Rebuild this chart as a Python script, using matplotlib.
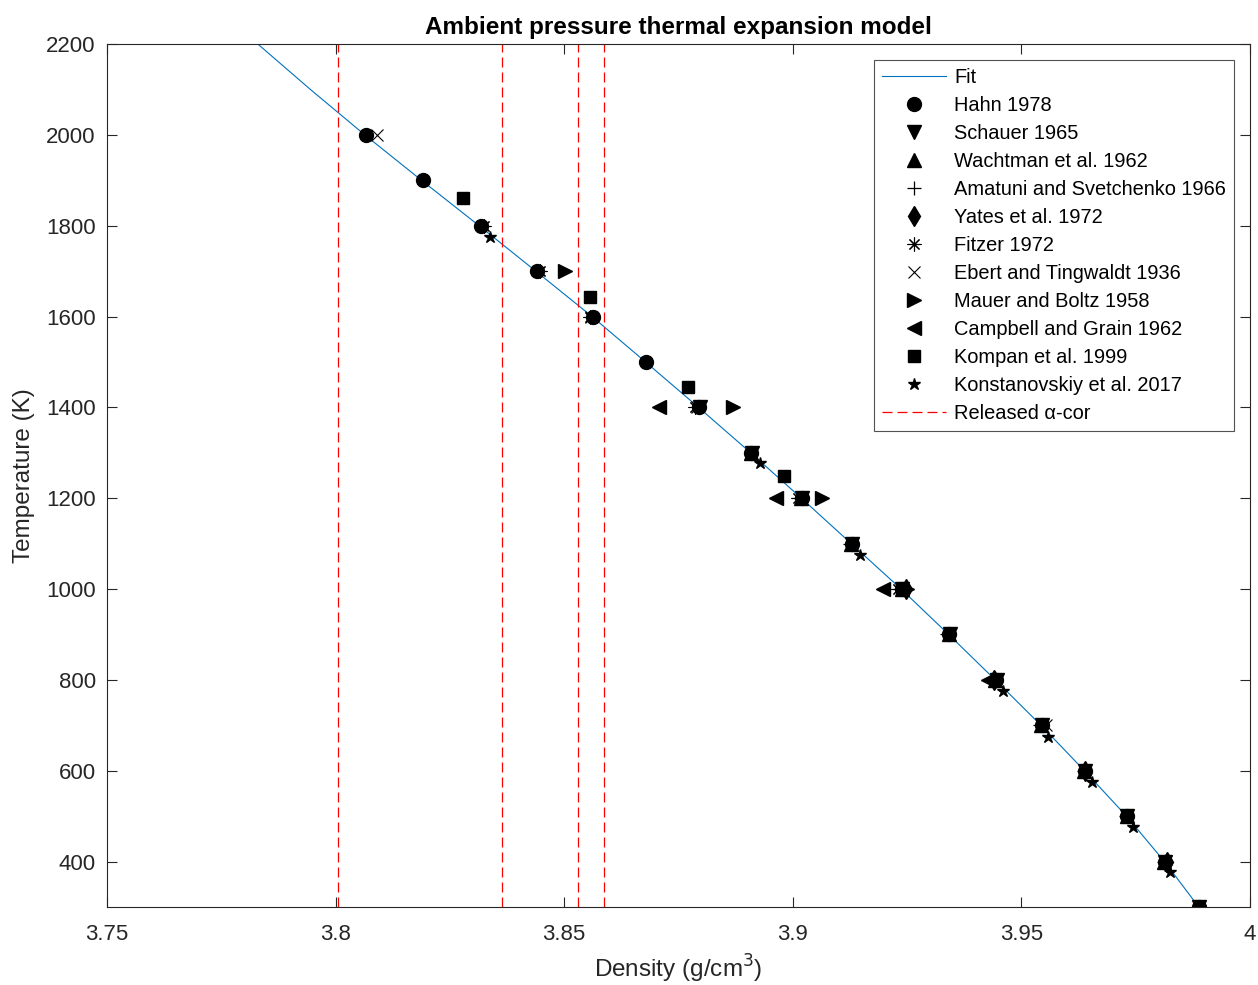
import matplotlib.pyplot as plt

plt.rcParams['font.family'] = ['Liberation Sans', 'DejaVu Sans']

# ---------------------------- data ----------------------------
fit_T = [2200, 2100, 2000, 1900, 1800, 1700, 1600, 1500, 1400, 1300, 1200, 1100,
         1000, 900, 800, 700, 600, 500, 400, 300]
fit_rho = [3.7830, 3.7945, 3.8064, 3.8188, 3.8314, 3.8438, 3.8561, 3.8678, 3.8794,
           3.8908, 3.9019, 3.9128, 3.9237, 3.9341, 3.9443, 3.9543, 3.9638, 3.9730,
           3.9813, 3.9888]

hahn_T = [2000, 1900, 1800, 1700, 1600, 1500, 1400, 1300, 1200, 1100, 1000, 900,
          800, 700, 600, 500, 400, 300]
hahn_rho = [3.8067, 3.8191, 3.8318, 3.8441, 3.8563, 3.8679, 3.8795, 3.8909, 3.9020,
            3.9129, 3.9239, 3.9342, 3.9444, 3.9545, 3.9639, 3.9731, 3.9814, 3.9888]

schauer_T = [1400, 1300, 1200, 1100, 1000, 900, 800, 700, 600, 500, 400, 300]
schauer_rho = [3.8797, 3.8910, 3.9021, 3.9130, 3.9240, 3.9343, 3.9446, 3.9546,
               3.9640, 3.9732, 3.9815, 3.9889]

wachtman_T = [1300, 1200, 1100, 1000, 900, 800, 700, 600, 500, 400, 300]
wachtman_rho = [3.8908, 3.9019, 3.9128, 3.9238, 3.9341, 3.9443, 3.9544, 3.9638,
                3.9730, 3.9813, 3.9888]

amatuni_T = [1200, 1100, 1000, 900, 800, 700, 600, 500, 400]
amatuni_rho = [3.9016, 3.9126, 3.9234, 3.9338, 3.9440, 3.9541, 3.9636, 3.9728, 3.9811]

yates_T = [1000, 800, 600, 400]
yates_rho = [3.9248, 3.9440, 3.9640, 3.9818]

fitzer_T = [1800, 1700, 1600, 1400, 1200, 1000]
fitzer_rho = [3.8325, 3.8448, 3.8556, 3.8786, 3.9012, 3.9230]

ebert_T = [2000, 1600, 1400, 700]
ebert_rho = [3.8090, 3.8558, 3.8790, 3.9555]

mauer_T = [1700, 1400, 1200, 1000]
mauer_rho = [3.8502, 3.8869, 3.9064, 3.9250]

campbell_T = [1400, 1200, 1000, 800]
campbell_rho = [3.8707, 3.8963, 3.9197, 3.9427]

kompan_T = [1862, 1642, 1444, 1248]
kompan_rho = [3.8279, 3.8556, 3.8771, 3.8981]

konst_T = [1776, 1277, 1075, 776, 675, 576, 477, 376]
konst_rho = [3.8338, 3.8928, 3.9147, 3.9460, 3.9558, 3.9654, 3.9744, 3.9825]

released_rho = [3.8005, 3.8364, 3.8530, 3.8587]

x_ticks = [3.75, 3.8, 3.85, 3.9, 3.95, 4.0]
x_tick_labels = ['3.75', '3.8', '3.85', '3.9', '3.95', '4']
y_ticks = [400, 600, 800, 1000, 1200, 1400, 1600, 1800, 2000, 2200]

# ----------------------------------- plot -----------------------------------
fig = plt.figure(figsize=(12.58, 9.85), dpi=100)
ax = fig.add_axes([0.085, 0.0792, 0.9086, 0.8761])

asterisk = (8, 2, 0)

ax.plot(fit_rho, fit_T, color='#0072BD', lw=0.8, label='Fit', zorder=2)
ax.plot(hahn_rho, hahn_T, 'ko', ms=10, ls='none', label='Hahn 1978')
ax.plot(schauer_rho, schauer_T, 'kv', ms=10, ls='none', label='Schauer 1965')
ax.plot(wachtman_rho, wachtman_T, 'k^', ms=10, ls='none', label='Wachtman et al. 1962')
ax.plot(amatuni_rho, amatuni_T, 'k+', ms=10, mew=0.9, ls='none', label='Amatuni and Svetchenko 1966')
ax.plot(yates_rho, yates_T, 'kd', ms=10, ls='none', label='Yates et al. 1972')
ax.plot(fitzer_rho, fitzer_T, color='k', marker=asterisk, ms=10, mew=0.8, ls='none',
        label='Fitzer 1972')
ax.plot(ebert_rho, ebert_T, 'kx', ms=8, mew=0.8, ls='none', label='Ebert and Tingwaldt 1936')
ax.plot(mauer_rho, mauer_T, 'k>', ms=10, ls='none', label='Mauer and Boltz 1958')
ax.plot(campbell_rho, campbell_T, 'k<', ms=10, ls='none', label='Campbell and Grain 1962')
ax.plot(kompan_rho, kompan_T, 'ks', ms=8, ls='none', label='Kompan et al. 1999')
ax.plot(konst_rho, konst_T, 'k*', ms=9, ls='none', label='Konstanovskiy et al. 2017')

for i, r in enumerate(released_rho):
    ax.axvline(r, color='#FF0000', ls=(0, (8, 4)), lw=0.9,
               label='Released \u03b1-cor' if i == 0 else None)

ax.set_xlim(3.75, 4.0)
ax.set_ylim(300, 2200)
ax.set_xticks(x_ticks)
ax.set_xticklabels(x_tick_labels)
ax.set_yticks(y_ticks)
ax.tick_params(direction='in', length=7, width=0.8, top=True, right=True,
               labelsize=16, colors='#262626')
ax.tick_params(axis='x', pad=12)
ax.tick_params(axis='y', pad=8)
for s in ax.spines.values():
    s.set_color('#262626')
    s.set_linewidth(0.8)

ax.set_xlabel('Density (g/cm$^3$)', fontsize=17.5, color='#262626', labelpad=6)
ax.set_ylabel('Temperature (K)', fontsize=17.5, color='#262626', labelpad=8)
ax.set_title('Ambient pressure thermal expansion model', fontsize=17.5,
             fontweight='bold', pad=7)

leg = ax.legend(loc='upper right', bbox_to_anchor=(0.986, 0.9815), borderaxespad=0,
                fontsize=14.4, frameon=True, fancybox=False, edgecolor='#262626',
                borderpad=0.4, labelspacing=0.45, handlelength=3.2, handletextpad=0.4)
leg.get_frame().set_linewidth(0.8)

plt.savefig('out.png', dpi=100)
